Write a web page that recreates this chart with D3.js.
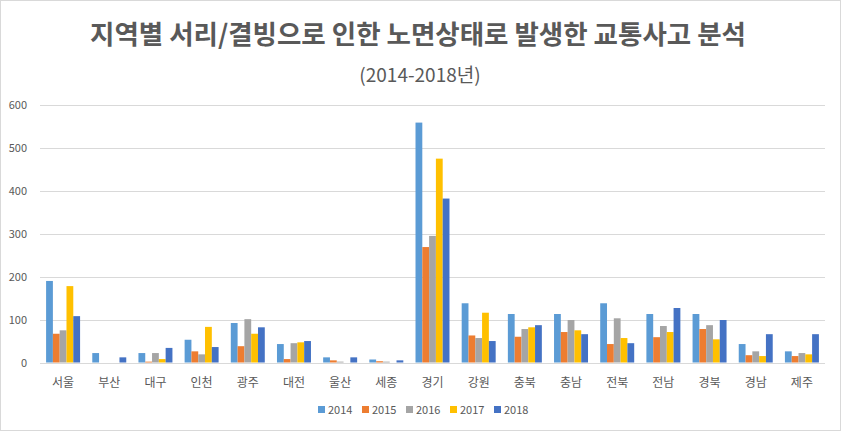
<!DOCTYPE html>
<html><head><meta charset="utf-8">
<script src="https://cdn.jsdelivr.net/npm/d3@7"></script>
<style>body{margin:0;background:#fff}svg{display:block}</style>
</head><body>
<svg id="c" width="841" height="431"></svg>
<script>
const categories = ["서울","부산","대구","인천","광주","대전","울산","세종","경기","강원","충북","충남","전북","전남","경북","경남","제주"];
const years = ["2014","2015","2016","2017","2018"];
const v2014 = [190,22,22,53,92,43,12,7,559,138,113,113,138,113,113,43,26];
const v2015 = [67,0,2,26,38,8,5,3,269,63,60,71,43,59,78,17,15];
const v2016 = [75,0,22,19,101,45,2,2,295,57,78,99,103,85,87,26,22];
const v2017 = [178,0,8,83,67,47,0,0,475,116,82,75,57,71,54,15,19];
const v2018 = [108,12,34,36,82,50,12,5,382,50,87,66,45,127,99,66,66];
const yTicks = [0,100,200,300,400,500,600];
const colors = ["#5B9BD5","#ED7D31","#A5A5A5","#FFC000","#4472C4"];
const series = [v2014,v2015,v2016,v2017,v2018];

const svg = d3.select("#c");
const font = "'Noto Sans CJK KR','Malgun Gothic',sans-serif";
svg.append("rect").attr("x",0.5).attr("y",0.5).attr("width",840).attr("height",430)
  .attr("fill","#fff").attr("stroke","#d9d9d9");

const x0 = d3.scaleBand().domain(categories).range([40,825]).paddingInner(0.264).paddingOuter(0.132);
const x1 = d3.scaleBand().domain(years).range([0,x0.bandwidth()]);
const y = d3.scaleLinear().domain([0,600]).range([362.5,105]);

svg.append("g").selectAll("line").data(yTicks).join("line")
  .attr("x1",40).attr("x2",825).attr("y1",d=>Math.round(y(d))+0.5).attr("y2",d=>Math.round(y(d))+0.5)
  .attr("stroke","#d9d9d9").attr("stroke-width",1);

svg.append("g").selectAll("text").data(yTicks).join("text")
  .attr("x",27).attr("y",d=>y(d)+4).attr("text-anchor","end")
  .attr("font-family",font).attr("font-size",11).attr("fill","#595959").text(d=>d);

const g = svg.append("g");
categories.forEach((c,i)=>{
  series.forEach((s,j)=>{
    g.append("rect").attr("x",x0(c)+x1(years[j])).attr("width",x1.bandwidth())
      .attr("y",y(s[i])).attr("height",y(0)-y(s[i])).attr("fill",colors[j]);
  });
});

svg.append("g").selectAll("text").data(categories).join("text")
  .attr("x",d=>x0(d)+x0.bandwidth()/2).attr("y",387).attr("text-anchor","middle")
  .attr("font-family",font).attr("font-size",12).attr("fill","#595959").text(d=>d);

svg.append("text").attr("x",418).attr("y",44).attr("text-anchor","middle")
  .attr("font-family",font).attr("font-size",26.5).attr("font-weight","bold").attr("fill","#595959")
  .text("지역별 서리/결빙으로 인한 노면상태로 발생한 교통사고 분석");
svg.append("text").attr("x",420).attr("y",82).attr("text-anchor","middle")
  .attr("font-family",font).attr("font-size",19).attr("fill","#595959")
  .text("(2014-2018년)");

const lg = svg.append("g");
years.forEach((yr,j)=>{
  const lx = 318 + j*44;
  lg.append("rect").attr("x",lx).attr("y",406).attr("width",7).attr("height",7).attr("fill",colors[j]);
  lg.append("text").attr("x",lx+10).attr("y",413.5).attr("font-family",font).attr("font-size",11)
    .attr("fill","#595959").text(yr);
});
</script>
</body></html>
